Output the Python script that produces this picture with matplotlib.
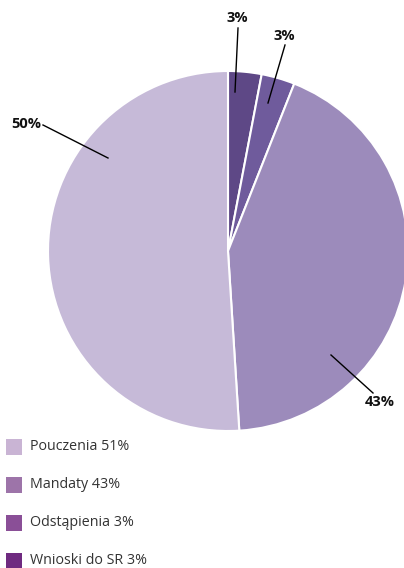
import matplotlib.pyplot as plt
from matplotlib.patches import Rectangle

plt.rcParams['font.family'] = ['Open Sans', 'DejaVu Sans']

# data, clockwise from the top
slices = ['Wnioski do SR', 'Odstąpienia', 'Mandaty', 'Pouczenia']
values = [3, 3, 43, 51]
pie_colors = ['#5e4886', '#6f5b9c', '#9c8bbb', '#c6bad8']
pie_labels = ['3%', '3%', '43%', '50%']

legend_labels = ['Pouczenia 51%', 'Mandaty 43%', 'Odstąpienia 3%', 'Wnioski do SR 3%']
legend_colors = ['#c9b4d4', '#9d74a9', '#8a4f97', '#6f2a80']

W, H = 404, 568
fig = plt.figure(figsize=(W / 100, H / 100), dpi=100)
ax = fig.add_axes([0, 0, 1, 1])

cx, cy, r = 228, H - 251, 180
ax.pie(values, colors=pie_colors, startangle=90, counterclock=False,
       center=(cx, cy), radius=r,
       wedgeprops=dict(edgecolor='white', linewidth=1.5))

# per slice: label text position, line start near label, line end inside slice
label_pos = [(237, 18), (284, 36), (380, 402), (26, 124)]
line_start = [(238, 28), (285, 45), (373, 393), (43, 125)]
line_end = [(235, 92), (268, 103), (331, 355), (108, 158)]
for lab, (tx, ty), (sx, sy), (ex, ey) in zip(pie_labels, label_pos, line_start, line_end):
    ax.plot([sx, ex], [H - sy, H - ey], color='black', lw=1)
    ax.text(tx, H - ty, lab, ha='center', va='center', fontsize=10.5,
            fontweight='bold', color='#111111')

# legend
for i, (lab, col) in enumerate(zip(legend_labels, legend_colors)):
    y = 447 + i * 38
    ax.add_patch(Rectangle((6, H - y - 8), 16, 16, color=col, lw=0))
    ax.text(30, H - y, lab, ha='left', va='center', fontsize=10.3, color='#333333')

ax.set_xlim(0, W)
ax.set_ylim(0, H)
ax.set_aspect('equal')
ax.axis('off')

plt.savefig('out.png', dpi=100)
